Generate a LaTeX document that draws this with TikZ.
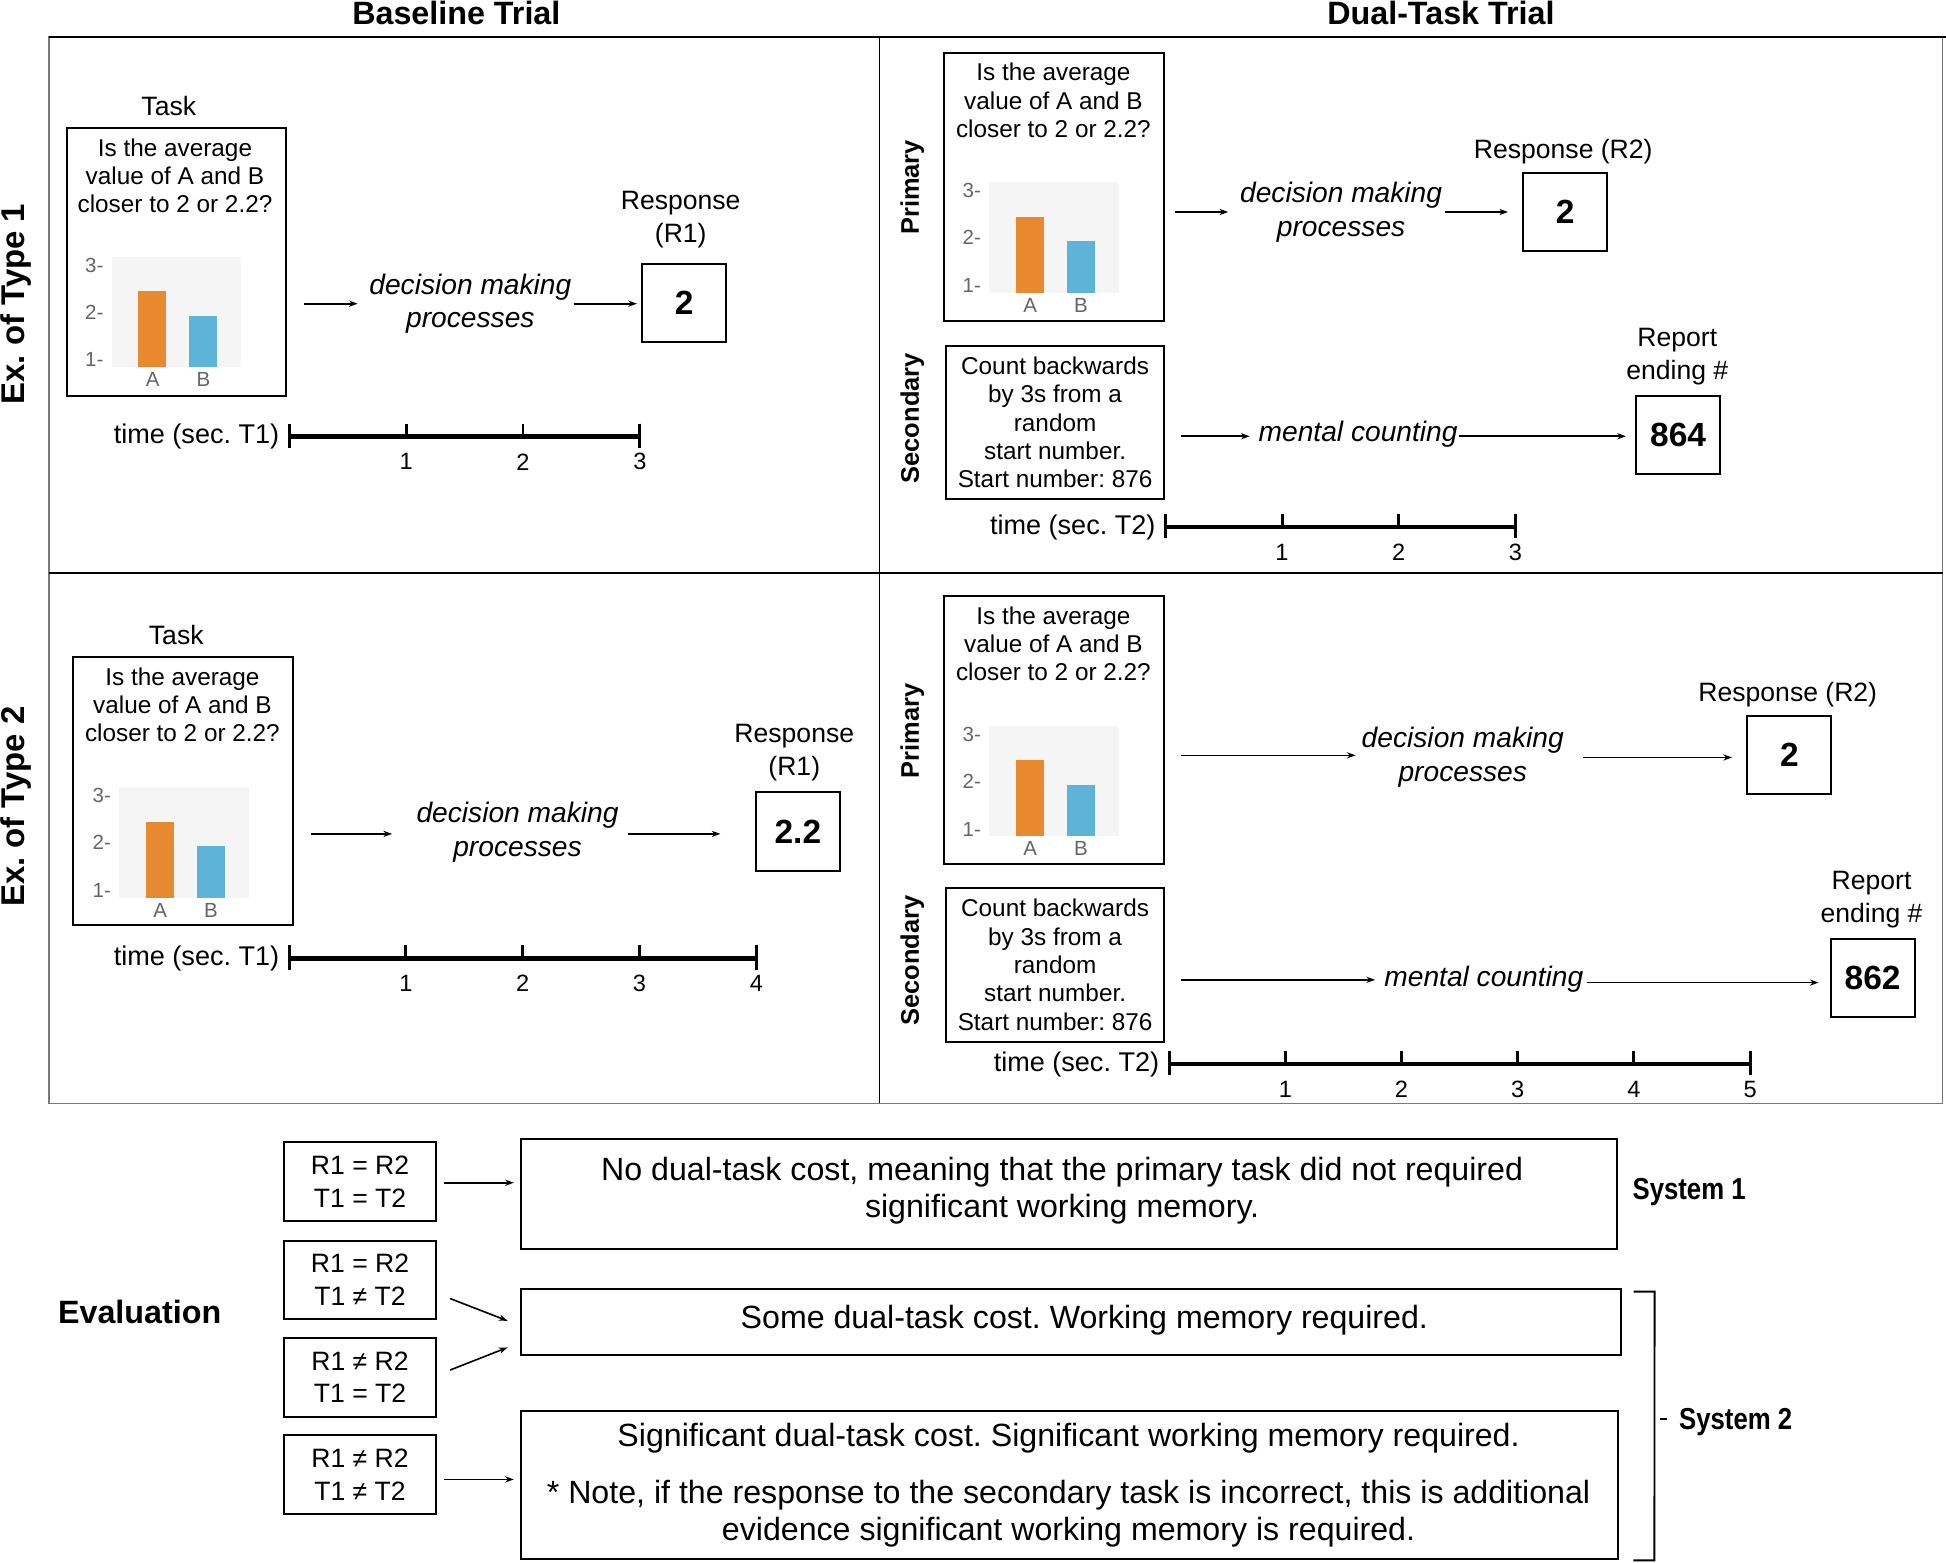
\documentclass[tikz,border=0pt]{standalone}
\usepackage{fontspec}
\setmainfont{Liberation Sans}
\newfontfamily\condfont[FakeStretch=0.85]{Liberation Sans}
\usetikzlibrary{arrows.meta,calc}
\definecolor{barA}{RGB}{232,137,47}
\definecolor{barB}{RGB}{93,180,216}
\definecolor{chartbg}{RGB}{245,245,246}
\definecolor{ticktext}{RGB}{100,100,100}
\definecolor{framegray}{RGB}{120,120,120}
\newcommand{\fsz}[2]{\fontsize{#1}{#2}\selectfont}
\frenchspacing

\tikzset{
 every node/.style={inner sep=0pt, outer sep=0pt},
 box/.style={draw, line width=1.6pt, inner sep=0pt, outer sep=0pt},
 taskbox/.style={box, minimum width=177pt, minimum height=216pt},
 secbox/.style={box, minimum width=176pt, minimum height=124pt},
 respbox/.style={box, minimum width=67.5pt, minimum height=63pt, font=\fsz{27}{30}\bfseries},
 condbox/.style={box, minimum width=122pt, minimum height=63.3pt, align=center, font=\fsz{21.4}{26.4}},
 resbox/.style={box},
 body/.style={align=center, font=\fsz{19.6}{22.8}},
 lab/.style={align=center, font=\fsz{21.4}{26.6}},
 ital/.style={align=center, font=\fsz{22.7}{27.3}\itshape},
 rowlab/.style={rotate=90, font=\fsz{26.5}{30}\bfseries},
 sidelab/.style={rotate=90, font=\fsz{20.5}{24}\bfseries},
 head/.style={anchor=base, font=\fsz{26}{30}\bfseries},
 restext/.style={align=center, font=\fsz{25.9}{29.8}},
 syslab/.style={font=\condfont\fsz{24.4}{28}\bfseries},
 ticklab/.style={text=ticktext, font=\fsz{16.5}{18}},
 timelab/.style={font=\fsz{21.8}{24}},
 timenum/.style={font=\fsz{19}{22}},
 tlmain/.style={line width=3.6pt},
 tltick/.style={line width=2.4pt},
 arr/.style={line width=1.3pt, -{Stealth[length=7pt,width=5pt]}},
 brk/.style={line width=1.5pt},
}

\newcommand{\minichart}[3]{%
 \begin{scope}[shift={(#1,#2)}]
  \fill[chartbg] (0,0) rectangle (104.5,89);
  \fill[barA] (21.5,27.5) rectangle (44,89);
  \fill[barB] (62.5,47.5) rectangle (85,89);
  \node[ticklab] (#3y3) at (-14,6.5) {3-};
  \node[ticklab] (#3y2) at (-14,44.5) {2-};
  \node[ticklab] (#3y1) at (-14,83) {1-};
  \node[ticklab] (#3xa) at (33,99) {A};
  \node[ticklab] (#3xb) at (74,99) {B};
 \end{scope}}

\newcommand{\tline}[6]{%
  \node[timelab, anchor=east] (#1lab) at (#3-8,#4) {#2};
  \draw[tlmain] (#3,#4) -- ({#3+#5*#6},#4);
  \draw[tltick] (#3,#4-10.5) -- (#3,#4+9);
  \draw[tltick] ({#3+#5*#6},#4-10.5) -- ({#3+#5*#6},#4+9);
  \foreach \k in {1,...,#6}{%
    \draw[tltick] ({#3+#5*\k},#4-10.5) -- ({#3+#5*\k},#4);
    \node[timenum] (#1n\k) at ({#3+#5*\k},#4+20.3) {\k};
  }}

\begin{document}
\begin{tikzpicture}[x=1pt,y=-1pt]
\useasboundingbox (0,0) rectangle (1568,1259);

% headers
\node[head] (hbase) at (367.7,19.4) {Baseline Trial};
\node[head] (hdual) at (1161,19.4) {Dual-Task Trial};

% frame
\draw[line width=1.3pt, draw=framegray] (39.3,29.8) rectangle (1565.3,889);
\draw[line width=1.3pt] (39.3,29.8) -- (1568,29.8);
\draw[line width=1.3pt] (708.6,29.8) -- (708.6,889);
\draw[line width=1.3pt] (39.3,461.5) -- (1565.3,461.5);

\node[rowlab] (ex1) at (13,245) {Ex. of Type 1};
\node[rowlab] (ex2) at (13,650) {Ex. of Type 2};

% ---------- top left
\node[lab] (tasklab1) at (136,85.5) {Task};
\node[taskbox] (task1) at (142.2,211.25) {};
\node[body] (q1) at (141,141.5) {Is the average\\value of A and B\\closer to 2 or 2.2?};
\minichart{90}{207}{ca}
\node[ital] (dm1) at (379,244.7) {decision making\\processes};
\node[lab] (resp1lab) at (548.5,176.7) {Response\\(R1)};
\node[respbox] (resp1) at (551.35,243.9) {2};
\draw[arr] ($(task1.east |- dm1.west)+(14,0)$) -- ($(dm1.west)+(-9.4,0)$);
\draw[arr] ($(dm1.east)+(1.8,0)$) -- ($(resp1.west |- dm1.east)+(-4.4,0)$);
\tline{ta}{time (sec. T1)}{233}{351.8}{94.2}{3}

% ---------- top right
\node[sidelab] (pri1) at (735,151) {Primary};
\node[taskbox] (prim1) at (849.05,150.55) {};
\node[body] (q2) at (848.8,80.9) {Is the average\\value of A and B\\closer to 2 or 2.2?};
\minichart{797}{147}{cb}
\node[ital] (dm2) at (1080.6,170.8) {decision making\\processes};
\node[lab] (resp2lab) at (1259.6,122.2) {Response (R2)};
\node[respbox] (resp2) at (1261.2,170.8) {2};
\draw[arr] ($(prim1.east |- dm2.west)+(9.3,0)$) -- ($(dm2.west)+(-9.6,0)$);
\draw[arr] ($(dm2.east)+(2.2,0)$) -- ($(resp2.west |- dm2.east)+(-12.4,0)$);

\node[sidelab] (sec1lab) at (735,337) {Secondary};
\node[secbox, body] (sec1) at (850.15,340.4) {Count backwards\\by 3s from a\\random\\start number.\\Start number: 876};
\node[ital] (mc1) at (1094.3,350) {mental counting};
\node[lab] (rep1lab) at (1351.5,287) {Report\\ending \#};
\node[respbox] (rep1) at (1352.15,350.3) {864};
\draw[arr] ($(sec1.east |- mc1.west)+(13.8,1.5)$) -- ($(mc1.west)+(-7.2,1.5)$);
\draw[arr] ($(mc1.east)+(1,1.5)$) -- ($(rep1.west |- mc1.east)+(-8.3,1.5)$);
\tline{tb}{time (sec. T2)}{939}{424.8}{94}{3}

% ---------- bottom left
\node[lab] (tasklab2) at (142,512) {Task};
\node[taskbox] (task2) at (147.3,637.25) {};
\node[body] (q3) at (147,567.9) {Is the average\\value of A and B\\closer to 2 or 2.2?};
\minichart{96}{634.5}{cc}
\node[ital] (dm3) at (417,670.9) {decision making\\processes};
\node[lab] (resp3lab) at (640,606.4) {Response\\(R1)};
\node[respbox] (resp3) at (642.9,669.95) {2.2};
\draw[arr] ($(task2.east |- dm3.west)+(14.6,1)$) -- ($(dm3.west)+(-19.7,1)$);
\draw[arr] ($(dm3.east)+(8,1)$) -- ($(resp3.west |- dm3.east)+(-28.7,1)$);
\tline{tc}{time (sec. T1)}{233}{772.3}{94.1}{4}

% ---------- bottom right
\node[sidelab] (pri2) at (735,589) {Primary};
\node[taskbox] (prim2) at (849.05,588) {};
\node[body] (q4) at (848.8,518.9) {Is the average\\value of A and B\\closer to 2 or 2.2?};
\minichart{797}{585}{cd}
\node[ital] (dm4) at (1178.6,609.9) {decision making\\processes};
\node[lab] (resp4lab) at (1440.5,560) {Response (R2)};
\node[respbox] (resp4) at (1441.75,608.2) {2};
\draw[arr] ($(prim2.east |- dm4.west)+(14.3,-1.3)$) -- ($(dm4.west)+(-5,-1.3)$);
\draw[arr] ($(dm4.east)+(15.4,0.4)$) -- ($(resp4.west |- dm4.east)+(-12.4,0.4)$);

\node[sidelab] (sec2lab) at (735,774) {Secondary};
\node[secbox, body] (sec2) at (850.15,777.45) {Count backwards\\by 3s from a\\random\\start number.\\Start number: 876};
\node[ital] (mc2) at (1195.6,789) {mental counting};
\node[lab] (rep2lab) at (1508,724.7) {Report\\ending \#};
\node[respbox] (rep2) at (1508.9,787.9) {862};
\draw[arr] ($(sec2.east |- mc2.west)+(13.8,0.5)$) -- ($(mc2.west)+(-7.5,0.5)$);
\draw[arr] ($(mc2.east)+(3,2.7)$) -- ($(rep2.west |- mc2.east)+(-9.8,2.7)$);
\tline{td}{time (sec. T2)}{942}{857.4}{93.64}{5}

% ---------- evaluation
\node[font=\fsz{26}{30}\bfseries] (eval) at (112.5,1057.5) {Evaluation};
\node[condbox] (c1) at (290.1,952.2) {R1 = R2\\T1 = T2};
\node[condbox] (c2) at (290.1,1031.35) {R1 = R2\\T1 ≠ T2};
\node[condbox] (c3) at (290.1,1109.75) {R1 ≠ R2\\T1 = T2};
\node[condbox] (c4) at (290.1,1188.05) {R1 ≠ R2\\T1 ≠ T2};

\node[resbox, minimum width=883.2pt, minimum height=88.9pt] (r1) at (861.1,962.05) {};
\node[restext] (r1t) at (855.8,959.6) {No dual-task cost, meaning that the primary task did not required\\significant working memory.};
\node[resbox, minimum width=886.7pt, minimum height=53.3pt] (r2) at (862.85,1065.35) {};
\node[restext] (r2t) at (873.7,1064) {Some dual-task cost. Working memory required.};
\node[resbox, minimum width=884.1pt, minimum height=119.5pt] (r3) at (861.55,1196.55) {};
\node[restext] (r3a) at (861,1158.5) {Significant dual-task cost. Significant working memory required.};
\node[restext] (r3b) at (861,1219.5) {* Note, if the response to the secondary task is incorrect, this is additional\\evidence significant working memory is required.};

\draw[arr] ($(c1.east)+(6.6,0.8)$) -- ($(r1.west |- c1.east)+(-5.5,0.8)$);
\draw[arr] ($(c2.south east)+(11.6,-16.7)$) -- ($(r2.west)+(-10.5,-1.1)$);
\draw[arr] ($(c3.north east)+(11.6,25.8)$) -- ($(r2.south west)+(-10.5,-6.3)$);
\draw[arr] ($(c4.east)+(6.6,4)$) -- ($(r3.west |- c4.east)+(-5.5,4)$);

\draw[brk] ($(r2.north east)+(10,2)$) -- ($(r2.north east)+(27,2)$) -- ($(r3.south east)+(29.4,1)$) -- ($(r3.south east)+(12.4,1)$);
\draw[brk] (1337.5,1143) -- (1343.5,1143);
\node[syslab] (sys1) at (1361,960.5) {System 1};
\node[syslab] (sys2) at (1398.5,1145.5) {System 2};
\end{tikzpicture}
\end{document}
